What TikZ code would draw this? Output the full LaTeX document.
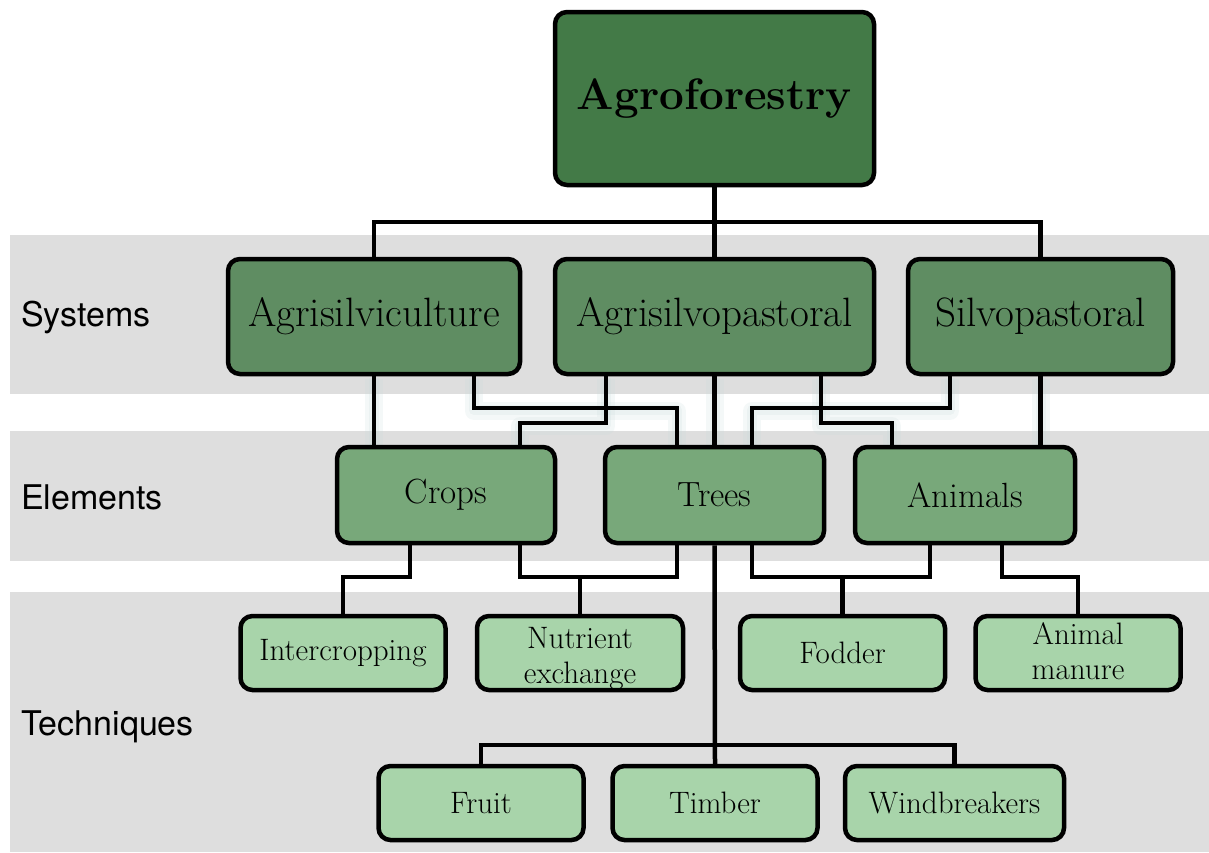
\documentclass[tikz,border=0pt]{standalone}
\usepackage{fontspec}
\newfontfamily\labelfont{TeX Gyre Heros}
\definecolor{band}{HTML}{DEDEDE}
\definecolor{rootgreen}{HTML}{437A47}
\definecolor{sysgreen}{HTML}{5F8D62}
\definecolor{elemgreen}{HTML}{78A87A}
\definecolor{techgreen}{HTML}{A8D4AA}
\definecolor{glow}{HTML}{C9DCDC}
\pgfdeclarelayer{bands}
\pgfdeclarelayer{glowlayer}
\pgfdeclarelayer{lines}
\pgfsetlayers{bands,glowlayer,lines,main}
\newcommand\systemlinks{%
  \draw[link] (sys1.south) -- (sys1.south |- crops.north);
  \draw[link] (s1r) |- (b1 -| t1) -- (t1);
  \draw[link] (s2l) |- (b1x -| c1) -- (c1);
  \draw[link] (sys2.south) -- (trees.north);
  \draw[link] (s2r) |- (b1x -| a1) -- (a1);
  \draw[link] (s3l) |- (b1 -| t2) -- (t2);
  \draw[link] (sys3.south) -- (sys3.south |- animals.north);
}
% two-line label, drawn a little below the box centre
\newcommand\twolines[3]{\raisebox{-#3}[\height][\depth]{\begin{tabular}{@{}c@{}}#1\\#2\end{tabular}}}
\begin{document}
\begin{tikzpicture}[x=1pt,y=-1pt,
  box/.style={draw=black, line width=4.5pt, rounded corners=12pt, align=center,
    inner sep=0pt, text=black},
  root/.style={box, fill=rootgreen, minimum width=319pt, minimum height=173pt,
    font=\fontsize{44}{50}\selectfont\bfseries},
  system/.style={box, fill=sysgreen, minimum height=115pt,
    font=\fontsize{41}{48}\selectfont},
  element/.style={box, fill=elemgreen, minimum width=219pt, minimum height=96pt,
    font=\fontsize{35}{42}\selectfont},
  technique/.style={box, fill=techgreen, minimum width=205pt, minimum height=74pt,
    font=\fontsize{31}{35}\selectfont},
  rowlabel/.style={anchor=west, inner sep=0pt, font=\labelfont\fontsize{34}{40}\selectfont},
  conn/.style={draw=black, line width=4.5pt, line join=miter},
  link/.style={conn}]
\useasboundingbox (0,0) rectangle (1209,852);

% horizontal bands behind each level
\begin{pgfonlayer}{bands}
  \fill[band] (10,235) rectangle (1209,394);
  \fill[band] (10,431) rectangle (1209,561);
  \fill[band] (10,592) rectangle (1209,852);
\end{pgfonlayer}

% level labels
\node[rowlabel] (lsys) at (21,317) {Systems};
\node[rowlabel] (lelem) at (21,497) {Elements};
\node[rowlabel] (ltech) at (21,727) {Techniques};

% boxes
\node[root] (agro) at (714.5,98.5) {Agroforestry};

\node[system, minimum width=292pt] (sys1) at (374,316.5) {Agrisilviculture};
\node[system, minimum width=319pt] (sys2) at (714.5,316.5) {Agrisilvopastoral};
\node[system, minimum width=265pt] (sys3) at (1040.5,316.5) {Silvopastoral};

\node[element, minimum width=218pt] (crops) at (446,495) {Crops};
\node[element] (trees) at (714.5,495) {Trees};
\node[element, minimum width=220pt] (animals) at (965,495) {Animals};

\node[technique] (inter) at (343,653) {Intercropping};
\node[technique, minimum width=206pt] (nutr) at (580,653) {\twolines{Nutrient}{exchange}{6pt}};
\node[technique] (fodder) at (842.5,653) {Fodder};
\node[technique] (manure) at (1078,653) {\twolines{Animal}{manure}{2pt}};

\node[technique] (fruit) at (481,803) {Fruit};
\node[technique] (timber) at (715,803) {Timber};
\node[technique, minimum width=219pt] (wind) at (954.5,803) {Windbreakers};

% bus levels and attachment points
\coordinate (b0) at (0,222);
\coordinate (b1) at (0,408);
\coordinate (b1x) at (0,423);
\coordinate (b2) at (0,577);
\coordinate (b3) at (0,745);
\coordinate (s1r) at ([xshift=100pt]sys1.south);
\coordinate (t1) at ([xshift=-37.5pt]trees.north);
\coordinate (s2l) at ([xshift=-108.5pt]sys2.south);
\coordinate (c1) at ([xshift=74pt]crops.north);
\coordinate (s2r) at ([xshift=106.5pt]sys2.south);
\coordinate (a1) at ([xshift=-73pt]animals.north);
\coordinate (s3l) at ([xshift=-90.5pt]sys3.south);
\coordinate (t2) at ([xshift=37.5pt]trees.north);
\coordinate (c2) at ([xshift=-36pt]crops.south);
\coordinate (c3) at ([xshift=74pt]crops.south);
\coordinate (t3) at ([xshift=-37.5pt]trees.south);
\coordinate (t4) at ([xshift=37.5pt]trees.south);
\coordinate (a2) at ([xshift=-35pt]animals.south);
\coordinate (a3) at ([xshift=37pt]animals.south);

% soft halo under the system-to-element links
\begin{pgfonlayer}{glowlayer}
  \begin{scope}[transform canvas={yshift=-3pt},
      link/.style={draw=glow, line width=18pt, opacity=.2, line join=round}]
    \systemlinks
  \end{scope}
  \begin{scope}[transform canvas={yshift=-2pt},
      link/.style={draw=glow, line width=10pt, opacity=.22, line join=round}]
    \systemlinks
  \end{scope}
\end{pgfonlayer}

\begin{pgfonlayer}{lines}
  % root to systems
  \draw[conn] (agro.south) -- (sys2.north);
  \draw[conn] (sys1.north) |- (b0 -| sys3.north) -- (sys3.north);
  % systems to elements
  \systemlinks
  % elements to techniques
  \draw[conn] (c2) |- (b2 -| inter.north) -- (inter.north);
  \draw[conn] (c3) |- (b2 -| t3) -- (t3);
  \draw[conn] (nutr.north) -- (nutr.north |- b2);
  \draw[conn] (t4) |- (b2 -| a2) -- (a2);
  \draw[conn] (fodder.north) -- (fodder.north |- b2);
  \draw[conn] (a3) |- (b2 -| manure.north) -- (manure.north);
  % trees to tree products
  \draw[conn] (trees.south) -- (timber.north);
  \draw[conn] (fruit.north) |- (b3 -| wind.north) -- (wind.north);
\end{pgfonlayer}
\end{tikzpicture}
\end{document}
